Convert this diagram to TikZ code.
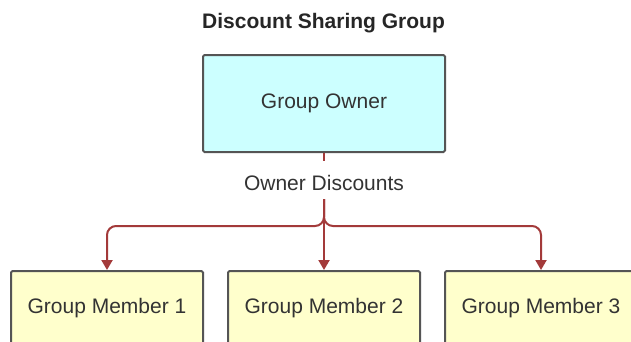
\documentclass[tikz,border=0pt]{standalone}
\usepackage{fontspec}
\setmainfont{Liberation Sans}
\usetikzlibrary{arrows.meta,calc}
\definecolor{ownerfill}{HTML}{CCFFFF}
\definecolor{memberfill}{HTML}{FFFFCC}
\definecolor{boxline}{HTML}{555555}
\definecolor{connred}{HTML}{A33A3A}
\definecolor{txt}{HTML}{333333}
\begin{document}
\begin{tikzpicture}[x=1pt,y=-1pt,
  every node/.style={font=\fontsize{21}{25}\selectfont, text=txt},
  box/.style={draw=boxline, line width=2pt, rounded corners=1.5pt, inner sep=0pt},
  ownerbox/.style={box, fill=ownerfill, minimum width=242pt, minimum height=97pt},
  memberbox/.style={box, fill=memberfill, minimum width=192pt, minimum height=74pt},
  link/.style={draw=connred, line width=2pt, rounded corners=9pt},
  tip/.style={-{Triangle[length=10pt,width=11pt]}}
]
\useasboundingbox (0,0) rectangle (631,341);
\clip (0,0) rectangle (631,341);
\fill[white] (0,0) rectangle (631,341);

\node[font=\bfseries\fontsize{21}{25}\selectfont, text=black!85, anchor=base] (title) at (323.5,28) {Discount Sharing Group};
\node[ownerbox] (owner) at (324,103.5) {Group Owner};
\node[inner sep=0pt, text height=29pt, text depth=9pt, anchor=base] (od) at (324,190) {Owner Discounts};

\node[memberbox] (m1) at (107,308) {Group Member 1};
\node[memberbox] (m2) at (324,308) {Group Member 2};
\node[memberbox] (m3) at (541,308) {Group Member 3};

\coordinate (br) at (0,226);
\draw[link] (owner.south) -- (od.north);
\draw[link,tip] (od.south) |- (m1.north |- br) -- (m1.north);
\draw[link,tip] (od.south) -- (m2.north);
\draw[link,tip] (od.south) |- (m3.north |- br) -- (m3.north);
\end{tikzpicture}
\end{document}
